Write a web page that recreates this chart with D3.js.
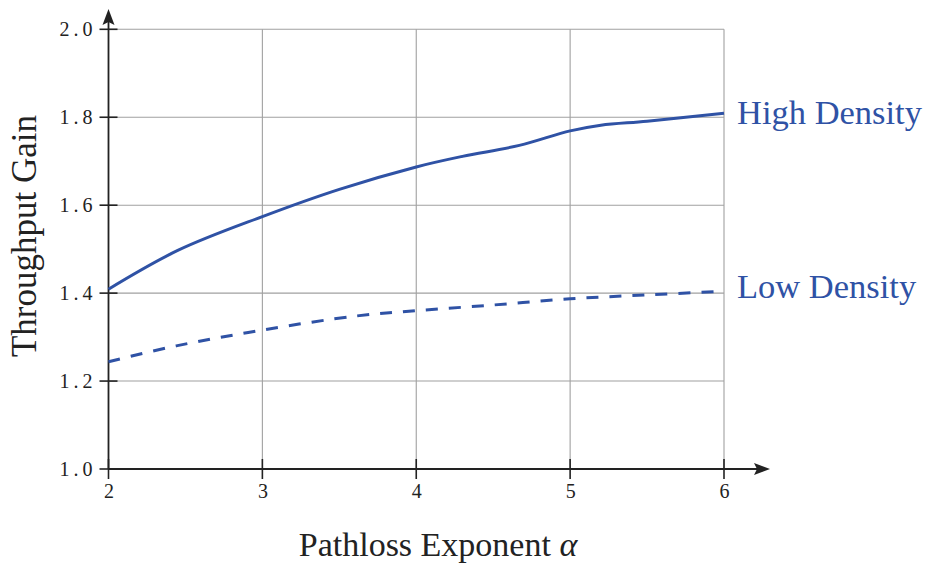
<!DOCTYPE html>
<html>
<head>
<meta charset="utf-8">
<script src="https://cdn.jsdelivr.net/npm/d3@7"></script>
<style>
  html, body { margin: 0; padding: 0; background: #fff; }
  svg { display: block; }
</style>
</head>
<body>
<svg id="chart" width="929" height="567"></svg>
<script>
// Throughput gain vs. pathloss exponent for two network densities
const alphaHigh = [2.0, 2.45, 3.0, 3.5, 4.0, 4.3, 4.67, 5.0, 5.2, 5.5, 6.0];
const gainHigh  = [1.409, 1.497, 1.574, 1.636, 1.687, 1.711, 1.736, 1.769, 1.782, 1.791, 1.809];

const alphaLow = [2.0, 2.44, 3.0, 3.61, 4.0, 4.5, 5.0, 5.5, 6.0];
const gainLow  = [1.244, 1.280, 1.316, 1.348, 1.360, 1.373, 1.387, 1.396, 1.404];

const xTicks = [2, 3, 4, 5, 6];
const yTicks = [1.0, 1.2, 1.4, 1.6, 1.8, 2.0];
const seriesNames = ["High Density", "Low Density"];

const blue = "#2f52a5";
const serif = "'Liberation Serif', 'Times New Roman', serif";
const svg = d3.select("#chart");

const x = d3.scaleLinear().domain([2, 6]).range([108.5, 724]);
const y = d3.scaleLinear().domain([1.0, 2.0]).range([469, 29.3]);

// grid
const grid = svg.append("g").attr("stroke", "#a0a0a0").attr("stroke-width", 1.1);
grid.selectAll("line.v").data(xTicks.slice(1)).join("line")
  .attr("x1", d => x(d)).attr("x2", d => x(d))
  .attr("y1", y(1.0)).attr("y2", y(2.0));
grid.selectAll("line.h").data(yTicks.slice(1)).join("line")
  .attr("x1", x(2)).attr("x2", x(6))
  .attr("y1", d => y(d)).attr("y2", d => y(d));

// tick labels via d3 axes (ticks drawn separately so they cross the axis)
const axisColor = "#222";
const xAxis = d3.axisBottom(x).tickValues(xTicks).tickFormat(d3.format("d")).tickSize(0).tickPadding(15);
const gx = svg.append("g").attr("transform", `translate(0,${y(1.0)})`).call(xAxis)
  .attr("font-family", serif).attr("font-size", 20);
gx.select(".domain").remove();
gx.selectAll("text").style("font-family", serif).style("font-size", "20px").attr("fill", "#222");

const yAxis = d3.axisLeft(y).tickValues(yTicks).tickFormat(d3.format(".1f")).tickSize(0).tickPadding(12);
const gy = svg.append("g").attr("transform", `translate(${x(2)},0)`).call(yAxis)
  .attr("font-family", serif).attr("font-size", 20);
gy.select(".domain").remove();
gy.selectAll("text").style("font-family", serif).style("font-size", "20px").attr("fill", "#222")
  .style("letter-spacing", "4px");

const ticks = svg.append("g").attr("stroke", axisColor).attr("stroke-width", 1.6);
ticks.selectAll("line.xt").data(xTicks).join("line")
  .attr("x1", d => x(d)).attr("x2", d => x(d))
  .attr("y1", y(1.0) - 10).attr("y2", y(1.0) + 10);
ticks.selectAll("line.yt").data(yTicks).join("line")
  .attr("x1", x(2) - 9).attr("x2", x(2) + 9)
  .attr("y1", d => y(d)).attr("y2", d => y(d));

// axis lines with arrowheads
svg.append("line").attr("x1", x(2)).attr("x2", 757).attr("y1", y(1.0)).attr("y2", y(1.0))
  .attr("stroke", axisColor).attr("stroke-width", 1.8);
svg.append("path").attr("d", `M770,${y(1.0)} L754,${y(1.0) - 6} L757,${y(1.0)} L754,${y(1.0) + 6} Z`).attr("fill", axisColor);
svg.append("line").attr("x1", x(2)).attr("x2", x(2)).attr("y1", y(1.0)).attr("y2", 22)
  .attr("stroke", axisColor).attr("stroke-width", 1.8);
svg.append("path").attr("d", `M${x(2)},9 L${x(2) - 6},25 L${x(2)},22 L${x(2) + 6},25 Z`).attr("fill", axisColor);

// curves
const line = d3.line().curve(d3.curveCatmullRom.alpha(0.5));
const highPts = alphaHigh.map((a, i) => [x(a), y(gainHigh[i])]);
const lowPts = alphaLow.map((a, i) => [x(a), y(gainLow[i])]);

svg.append("path").attr("d", line(highPts)).attr("fill", "none")
  .attr("stroke", blue).attr("stroke-width", 3);
svg.append("path").attr("d", line(lowPts)).attr("fill", "none")
  .attr("stroke", blue).attr("stroke-width", 3).attr("stroke-dasharray", "12,11");

// series labels at the right ends
svg.append("text").attr("x", 737).attr("y", y(gainHigh[gainHigh.length - 1]) + 11)
  .attr("font-family", serif).attr("font-size", 34.5).attr("fill", blue)
  .text(seriesNames[0]);
svg.append("text").attr("x", 737).attr("y", y(gainLow[gainLow.length - 1]) + 7)
  .attr("font-family", serif).attr("font-size", 34.5).attr("fill", blue)
  .text(seriesNames[1]);

// axis titles
const xTitle = svg.append("text").attr("x", 438).attr("y", 556).attr("text-anchor", "middle")
  .attr("font-family", serif).attr("font-size", 34).attr("fill", "#222");
xTitle.append("tspan").text("Pathloss Exponent ");
xTitle.append("tspan").attr("font-style", "italic").text("α");

svg.append("text").attr("transform", "translate(36,236) rotate(-90)").attr("text-anchor", "middle")
  .attr("font-family", serif).attr("font-size", 35).attr("fill", "#222")
  .text("Throughput Gain");
</script>
</body>
</html>
